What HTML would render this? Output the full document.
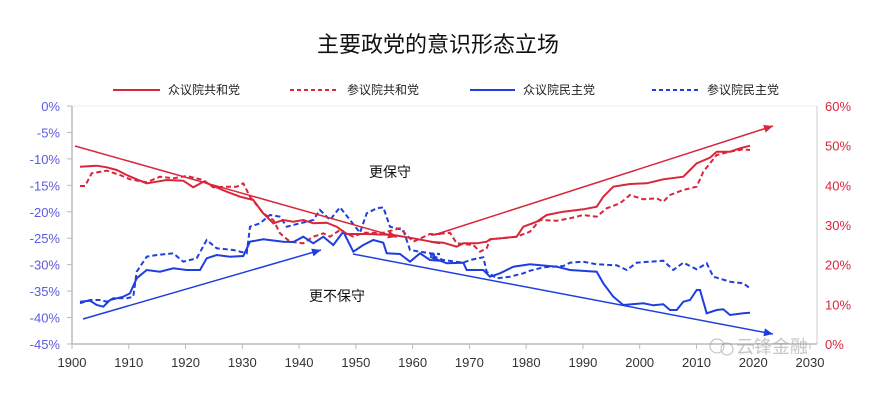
<!DOCTYPE html>
<html><head><meta charset="utf-8"><style>
body{margin:0;background:#fff;width:876px;height:401px;overflow:hidden;font-family:"Liberation Sans","Noto Sans CJK SC",sans-serif}
</style></head><body>
<svg id="s" width="876" height="401" xmlns="http://www.w3.org/2000/svg" font-family="Liberation Sans, Noto Sans CJK SC, sans-serif">
<text x="438" y="52" font-size="22" text-anchor="middle" fill="#111">主要政党的意识形态立场</text>
<g font-size="12" fill="#222">
<line x1="113" y1="90" x2="160" y2="90" stroke="#d9263b" stroke-width="2"/><text x="168" y="94">众议院共和党</text>
<line x1="290" y1="90" x2="337" y2="90" stroke="#d9263b" stroke-width="2" stroke-dasharray="4,3"/><text x="347" y="94">参议院共和党</text>
<line x1="470" y1="90" x2="515" y2="90" stroke="#1f3ee0" stroke-width="2"/><text x="523" y="94">众议院民主党</text>
<line x1="652" y1="90" x2="698" y2="90" stroke="#1f3ee0" stroke-width="2" stroke-dasharray="4,3"/><text x="707" y="94">参议院民主党</text>
</g>
<line x1="72" y1="106" x2="817" y2="106" stroke="#eee"/>
<line x1="72" y1="106" x2="72" y2="344" stroke="#bbb" stroke-width="1.5"/>
<line x1="817" y1="106" x2="817" y2="344" stroke="#ddd" stroke-width="1.5"/>
<line x1="72" y1="344" x2="817" y2="344" stroke="#bbb" stroke-width="1.5"/>
<g id="ax"></g>
<g id="lines" fill="none" stroke-width="2"></g>
<text x="390" y="177" font-size="14" text-anchor="middle" fill="#111">更保守</text>
<text x="337" y="301" font-size="14" text-anchor="middle" fill="#111">更不保守</text>
<g opacity="0.55"><circle cx="717" cy="346" r="7" fill="none" stroke="#888"/><circle cx="727" cy="349" r="6" fill="none" stroke="#888"/>
<text x="736" y="353" font-size="18" fill="#999">云锋金融</text></g>
</svg>
<script>
var ns="http://www.w3.org/2000/svg",ax=document.getElementById('ax'),L=document.getElementById('lines');
function el(t,a,p,txt){var e=document.createElementNS(ns,t);for(var k in a)e.setAttribute(k,a[k]);if(txt)e.textContent=txt;p.appendChild(e);return e;}
for(var i=0;i<=9;i++){var y=106+i*26.44;el('text',{x:60,y:y+5,'font-size':13,fill:'#5b5bdc','text-anchor':'end'},ax,(i==0?'0':'-'+i*5)+'%');el('line',{x1:67,y1:y,x2:72,y2:y,stroke:'#bbb'},ax);}
for(var i=0;i<=6;i++){var y=344-i*39.67;el('text',{x:825,y:y+5,'font-size':13,fill:'#d9263b'},ax,i*10+'%');}
for(var i=0;i<=13;i++){var x=72+i*56.77;el('text',{x:x,y:367,'font-size':13,fill:'#333','text-anchor':'middle'},ax,1900+i*10);el('line',{x1:x,y1:344,x2:x,y2:349,stroke:'#bbb'},ax);}
function pts(a,b){var r=[];for(var i=0;i<a.length;i+=2)r.push((a[i]/3).toFixed(1)+','+(80+a[i+1]/3).toFixed(1));for(var i=0;i<b.length;i+=2)r.push((430+b[i]/3).toFixed(1)+','+(80+b[i+1]/3).toFixed(1));return r.join(' ');}
var R='#d9263b',B='#1f3ee0';
var rs1=[240,260,290,257,320,262,350,270,380,285,410,298,440,310,470,305,500,300,550,302,580,322,610,305,640,318,680,335,720,350,760,360,790,400,820,430,850,420,880,425,910,420,940,430,980,428,1010,440,1040,462,1100,462,1180,465,1240,475,1320,490],
rs2=[0,485,40,488,80,500,100,490,140,490,170,485,180,478,260,470,280,440,320,425,350,405,400,395,460,388,500,380,520,350,550,320,600,312,650,310,700,298,760,290,780,270,800,250,840,233,860,215,900,215,930,205,960,197],
rd1=[240,318,255,318,275,280,320,272,360,285,390,298,440,307,480,290,520,295,560,288,610,300,640,322,680,320,710,320,730,310,750,350,790,400,820,420,840,460,870,485,910,490,940,470,970,460,990,470,1020,450,1060,470,1090,458,1150,458,1200,445,1240,485,1290,462,1320,462],
rd2=[0,465,60,458,80,490,130,495,150,515,170,505,180,478,260,470,300,455,330,420,380,422,420,415,460,405,500,410,530,385,570,370,600,345,640,358,680,355,700,365,720,345,760,330,800,320,820,275,840,250,860,225,900,215,940,208,960,210],
bs1=[240,665,270,662,290,675,310,680,330,660,370,650,390,640,410,595,440,570,480,575,520,565,560,570,600,570,620,535,650,525,690,530,730,528,750,485,790,478,850,485,880,486,910,470,940,490,970,470,1000,495,1030,455,1060,515,1090,495,1120,480,1150,488,1160,520,1200,522,1230,545,1260,520,1290,540,1320,542],
bs2=[0,530,50,550,100,548,110,570,160,570,180,590,210,580,250,560,300,553,380,560,420,570,500,575,520,610,550,650,580,675,640,670,670,676,700,673,720,690,740,690,760,665,780,660,800,630,810,630,830,700,860,690,880,688,900,705,940,700,960,698],
bd1=[240,670,270,660,300,660,320,665,340,655,380,655,400,650,410,575,440,530,470,525,520,520,550,545,590,535,620,480,650,505,700,510,740,520,750,440,780,430,810,405,840,410,860,440,900,430,940,420,960,390,990,420,1020,382,1050,420,1080,458,1100,400,1130,385,1150,382,1170,440,1210,450,1230,510,1260,515,1290,520,1320,522],
bd2=[0,525,40,540,100,548,120,540,160,532,170,575,200,595,240,590,280,580,300,572,340,562,400,558,420,548,460,545,500,553,560,556,590,570,620,548,700,542,730,570,760,548,800,568,830,550,850,590,900,605,940,610,960,625];
el('polyline',{points:pts(bd1,bd2),stroke:B,'stroke-dasharray':'5,3'},L);
el('polyline',{points:pts(rd1,rd2),stroke:R,'stroke-dasharray':'5,3'},L);
el('polyline',{points:pts(bs1,bs2),stroke:B},L);
el('polyline',{points:pts(rs1,rs2),stroke:R},L);
function arr(x1,y1,x2,y2,c){el('line',{x1:x1,y1:y1,x2:x2,y2:y2,stroke:c,'stroke-width':1.5},L);var a=Math.atan2(y2-y1,x2-x1),s=9;
var p=[x2,y2,x2-s*Math.cos(a)+4*Math.sin(a),y2-s*Math.sin(a)-4*Math.cos(a),x2-s*Math.cos(a)-4*Math.sin(a),y2-s*Math.sin(a)+4*Math.cos(a)];
el('polygon',{points:p.join(' '),fill:c,stroke:'none'},L);}
arr(75,146,397,237,R);arr(437,234,773,126,R);arr(83,319,321,250,B);arr(353,254,773,334,B);
</script>
</body></html>
